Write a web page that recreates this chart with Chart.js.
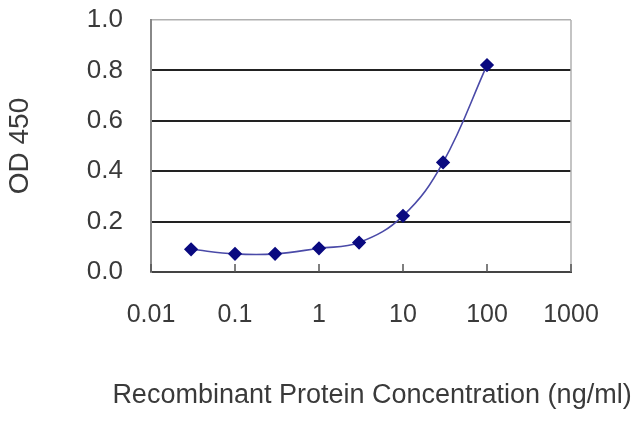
<!DOCTYPE html>
<html>
<head>
<meta charset="utf-8">
<script src="https://cdn.jsdelivr.net/npm/chart.js@4/dist/chart.umd.min.js"></script>
<style>
  html, body { margin: 0; padding: 0; background: #fff; }
  #wrap { width: 640px; height: 427px; position: relative; }
</style>
</head>
<body>
<div id="wrap"><canvas id="c" width="640" height="427"></canvas></div>
<script>
const concentrations = [0.03, 0.1, 0.3, 1, 3, 10, 30, 100];
const odValues = [0.090, 0.072, 0.072, 0.094, 0.117, 0.223, 0.435, 0.821];
const xTickValues = [0.01, 0.1, 1, 10, 100, 1000];
const xTickLabels = ['0.01', '0.1', '1', '10', '100', '1000'];
const yTickValues = [0, 0.2, 0.4, 0.6, 0.8, 1.0];
const xTitle = 'Recombinant Protein Concentration (ng/ml)';
const yTitle = 'OD 450';

const FONT = "'Liberation Sans', Arial, sans-serif";
const TEXT = '#3a3a3a';

const framePlugin = {
  id: 'frame',
  beforeDatasetsDraw(chart) {
    const { ctx, chartArea: a, scales: { x } } = chart;
    ctx.save();
    ctx.strokeStyle = '#b0b0b0';
    ctx.lineWidth = 1.5;
    ctx.beginPath();
    ctx.moveTo(a.right, a.top);
    ctx.lineTo(a.right, a.bottom);
    ctx.stroke();
    ctx.strokeStyle = '#555';
    ctx.lineWidth = 1.5;
    xTickValues.forEach(v => {
      const px = x.getPixelForValue(v);
      ctx.beginPath();
      ctx.moveTo(px, a.bottom);
      ctx.lineTo(px, a.bottom - 8);
      ctx.stroke();
    });
    ctx.restore();
  },
  afterDraw(chart) {
    // x-axis title drawn without Chart.js's width clamp so it can extend past the plot
    const { ctx, chartArea: a } = chart;
    ctx.save();
    ctx.font = "27px " + FONT;
    ctx.fillStyle = TEXT;
    ctx.textAlign = 'center';
    ctx.textBaseline = 'middle';
    ctx.fillText(xTitle, (a.left + a.right) / 2 + 11, 396);
    ctx.restore();
  }
};

new Chart(document.getElementById('c'), {
  type: 'line',
  data: {
    datasets: [{
      data: concentrations.map((c, i) => ({ x: c, y: odValues[i] })),
      borderColor: '#4a4aa8',
      borderWidth: 1.6,
      backgroundColor: '#0a0a80',
      pointBackgroundColor: '#0a0a80',
      pointBorderColor: '#0a0a80',
      pointStyle: 'rectRot',
      pointRadius: 6,
      tension: 0.4,
      fill: false
    }]
  },
  options: {
    responsive: false,
    animation: false,
    devicePixelRatio: 1,
    layout: { padding: { left: 0, right: 69, top: 20, bottom: 0 } },
    plugins: { legend: { display: false }, tooltip: { enabled: false } },
    scales: {
      x: {
        type: 'logarithmic',
        min: 0.01,
        max: 1000,
        afterBuildTicks(scale) { scale.ticks = xTickValues.map(v => ({ value: v })); },
        afterFit(scale) { scale.height = 155; scale.paddingLeft = 0; scale.paddingRight = 0; },
        grid: { display: false, drawTicks: false },
        border: { display: true, color: '#444', width: 2 },
        ticks: {
          autoSkip: false,
          maxRotation: 0,
          padding: 28,
          color: TEXT,
          font: { family: FONT, size: 25 },
          callback: (v) => { const i = xTickValues.indexOf(v); return i >= 0 ? xTickLabels[i] : ''; }
        },
        title: { display: false, text: xTitle }
      },
      y: {
        min: 0,
        max: 1,
        afterBuildTicks(scale) { scale.ticks = yTickValues.map(v => ({ value: v })); },
        afterFit(scale) { scale.width = 151; scale.paddingTop = 0; scale.paddingBottom = 0; },
        grid: {
          drawTicks: false,
          color: (ctx) => (ctx.tick && ctx.tick.value >= 0.99) ? '#b0b0b0' : '#222',
          lineWidth: (ctx) => (ctx.tick && ctx.tick.value >= 0.99) ? 1.5 : 2
        },
        border: { display: true, color: '#888', width: 2 },
        ticks: {
          padding: 28,
          color: TEXT,
          font: { family: FONT, size: 26 },
          callback: (v) => Number(v).toFixed(1)
        },
        title: {
          display: true,
          text: yTitle,
          color: TEXT,
          font: { family: FONT, size: 28 },
          padding: { top: 3, bottom: 3 }
        }
      }
    }
  },
  plugins: [framePlugin]
});
</script>
</body>
</html>
